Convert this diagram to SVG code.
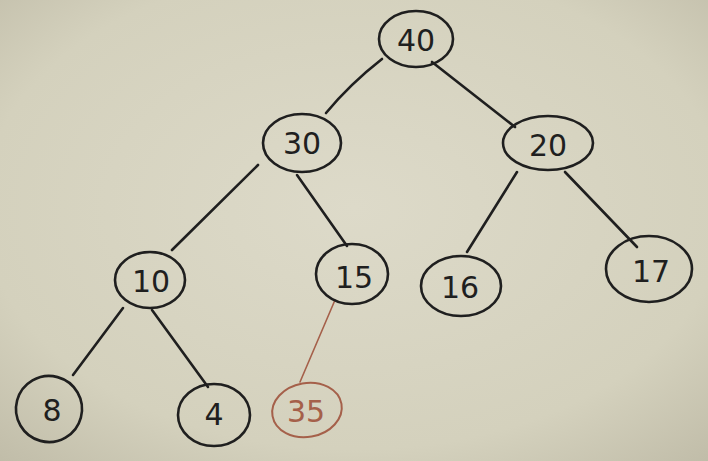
<svg xmlns="http://www.w3.org/2000/svg" width="708" height="461" viewBox="0 0 708 461">
  <defs>
    <radialGradient id="paper" cx="0.5" cy="0.45" r="0.75">
      <stop offset="0" stop-color="#dddac9"/>
      <stop offset="0.7" stop-color="#d4d1bd"/>
      <stop offset="1" stop-color="#c0bca8"/>
    </radialGradient>
    <style>
      .node ellipse { fill: none; stroke: #1f1f1f; stroke-width: 2.6; }
      .node text { font-family: "DejaVu Sans", "Liberation Sans", sans-serif; font-size: 30px; fill: #1f1f1f; text-anchor: middle; dominant-baseline: central; }
      .edge { fill: none; stroke: #1f1f1f; stroke-width: 2.6; stroke-linecap: round; }
      .red ellipse { stroke: #a5604a; stroke-width: 2; }
      .red text { fill: #a5604a; }
      .edge.red { stroke: #a5604a; stroke-width: 1.6; }
    </style>
  </defs>

  <rect width="708" height="461" fill="url(#paper)"/>

  <!-- connectors -->
  <g id="edges">
    <path class="edge" d="M382 59 Q350 84 326 113"/>
    <path class="edge" d="M432 62 L515 127"/>
    <path class="edge" d="M258 165 L172 250"/>
    <path class="edge" d="M297 175 L347 246"/>
    <path class="edge" d="M517 172 L467 252"/>
    <path class="edge" d="M565 172 L637 247"/>
    <path class="edge" d="M123 308 L73 375"/>
    <path class="edge" d="M152 310 L208 387"/>
    <path class="edge red" d="M335 300 L300 382"/>
  </g>

  <!-- nodes -->
  <g id="n40" class="node"><ellipse cx="416" cy="39" rx="37" ry="28"/><text x="416" y="40">40</text></g>
  <g id="n30" class="node"><ellipse cx="302" cy="143" rx="39" ry="29"/><text x="302" y="143">30</text></g>
  <g id="n20" class="node"><ellipse cx="548" cy="143" rx="45" ry="27"/><text x="548" y="145">20</text></g>
  <g id="n10" class="node"><ellipse cx="150" cy="280" rx="35" ry="28"/><text x="151" y="281">10</text></g>
  <g id="n15" class="node"><ellipse cx="352" cy="274" rx="36" ry="30"/><text x="354" y="277">15</text></g>
  <g id="n16" class="node"><ellipse cx="461" cy="286" rx="40" ry="30"/><text x="460" y="287">16</text></g>
  <g id="n17" class="node"><ellipse cx="649" cy="269" rx="43" ry="33"/><text x="651" y="271">17</text></g>
  <g id="n8" class="node"><ellipse cx="49" cy="409" rx="33" ry="33" transform="rotate(-30 49 409)"/><text x="52" y="410">8</text></g>
  <g id="n4" class="node"><ellipse cx="214" cy="415" rx="36" ry="31"/><text x="214" y="414">4</text></g>
  <g id="n35" class="node red"><ellipse cx="307" cy="410" rx="35" ry="27" transform="rotate(-10 307 410)"/><text x="306" y="411">35</text></g>
</svg>
